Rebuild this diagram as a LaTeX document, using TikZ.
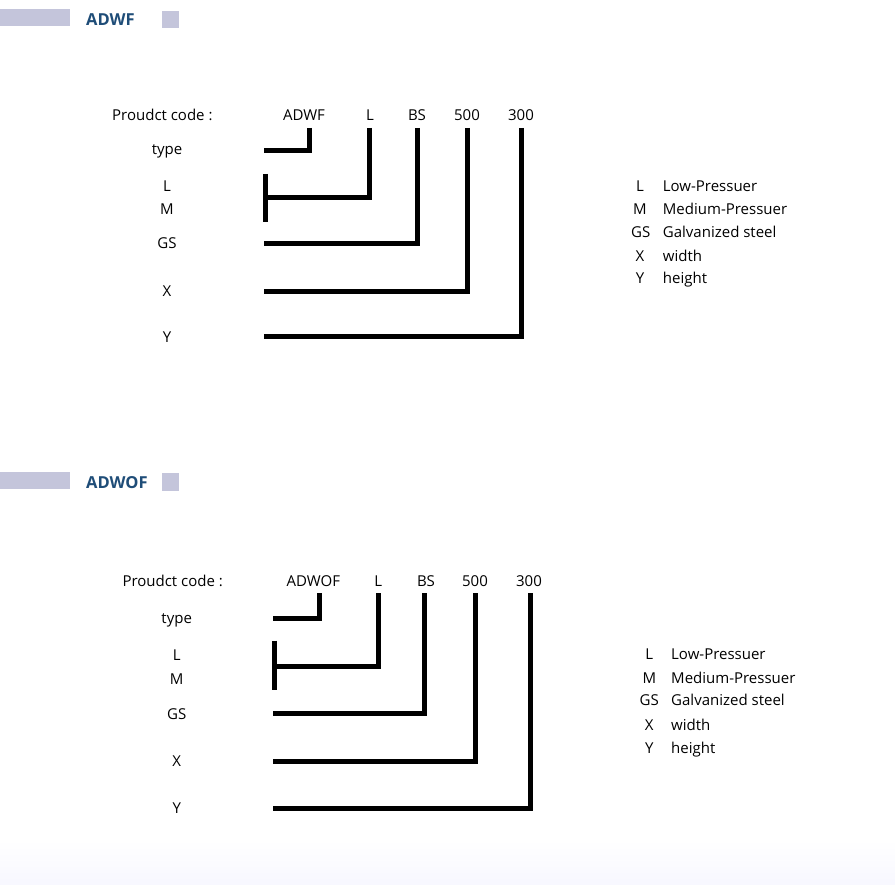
\documentclass[tikz,border=0pt]{standalone}
\usepackage{fontspec}
\setmainfont{Open Sans}
\definecolor{barc}{HTML}{C4C5DB}
\definecolor{headc}{HTML}{1F4D78}
\begin{document}
\begin{tikzpicture}[x=1pt,y=-1pt,
  lbl/.style={font=\fontsize{15}{18}\selectfont, inner sep=0pt, anchor=base},
  lblw/.style={lbl, anchor=base west},
  head/.style={font=\bfseries\fontsize{16.5}{20}\selectfont, text=headc, inner sep=0pt, anchor=base west},
  conn/.style={line width=5pt, line join=miter},
  bar/.style={fill=barc, draw=none}]
\useasboundingbox[fill=white] (0,0) rectangle (895,885);
\shade[bottom color=blue!3!white, top color=white] (0,840) rectangle (895,885);

% ===== Header 1 =====
\fill[bar] (0,9) rectangle (70,25.7);
\fill[bar] (162,11) rectangle (179,27.7);
\node[head] (h1) at (86,25.7) {ADWF};

% ===== Diagram 1 =====
\node[lblw] (pc1) at (112,121) {Proudct code :};
\node[lbl] (c1a) at (304,121) {ADWF};
\node[lbl] (c1b) at (370,121) {L};
\node[lbl] (c1c) at (417,121) {BS};
\node[lbl] (c1d) at (467,121) {500};
\node[lbl] (c1e) at (521,121) {300};

\node[lbl] (l1a) at (167,155) {type};
\node[lbl] (l1b) at (167,192) {L};
\node[lbl] (l1c) at (167,215) {M};
\node[lbl] (l1d) at (167,249) {GS};
\node[lbl] (l1e) at (167,296.7) {X};
\node[lbl] (l1f) at (167,343) {Y};

\coordinate (t1a) at (309,128);  \coordinate (e1a) at (264,151);
\coordinate (t1b) at (369,128);  \coordinate (e1b) at (265,198);
\coordinate (b1top) at (265,174); \coordinate (b1bot) at (265,222);
\coordinate (t1c) at (417,128);  \coordinate (e1c) at (264,244);
\coordinate (t1d) at (467,128);  \coordinate (e1d) at (264,292);
\coordinate (t1e) at (521.5,128);  \coordinate (e1e) at (264,337);

\draw[conn] (t1a) |- (e1a);
\draw[conn] (b1top) -- (b1bot);
\draw[conn] (t1b) |- (e1b);
\draw[conn] (t1c) |- (e1c);
\draw[conn] (t1d) |- (e1d);
\draw[conn] (t1e) |- (e1e);

% Legend 1
\node[lbl] (k1a) at (640,191.7) {L};
\node[lbl] (k1b) at (640,215) {M};
\node[lbl] (k1c) at (640.7,238) {GS};
\node[lbl] (k1d) at (640,261.7) {X};
\node[lbl] (k1e) at (640,284) {Y};
\node[lblw] (d1a) at (662.7,191.7) {Low-Pressuer};
\node[lblw] (d1b) at (662.7,215) {Medium-Pressuer};
\node[lblw] (d1c) at (662.7,238) {Galvanized steel};
\node[lblw] (d1d) at (662.7,261.7) {width};
\node[lblw] (d1e) at (662.7,284) {height};

% ===== Header 2 =====
\fill[bar] (0,472.3) rectangle (70,489);
\fill[bar] (162,473) rectangle (179,490.7);
\node[head] (h2) at (86,488.3) {ADWOF};

% ===== Diagram 2 =====
\node[lblw] (pc2) at (122.3,586.7) {Proudct code :};
\node[lbl] (c2a) at (313.3,586.7) {ADWOF};
\node[lbl] (c2b) at (378.3,586.7) {L};
\node[lbl] (c2c) at (426,586.7) {BS};
\node[lbl] (c2d) at (475,586.7) {500};
\node[lbl] (c2e) at (529,586.7) {300};

\node[lbl] (l2a) at (176.7,623) {type};
\node[lbl] (l2b) at (176.7,660.7) {L};
\node[lbl] (l2c) at (176.7,684) {M};
\node[lbl] (l2d) at (176.7,719.3) {GS};
\node[lbl] (l2e) at (176.7,766.7) {X};
\node[lbl] (l2f) at (176.7,813) {Y};

\coordinate (t2a) at (319,593);  \coordinate (e2a) at (273,618.5);
\coordinate (t2b) at (378,593);  \coordinate (e2b) at (274,666);
\coordinate (b2top) at (274,640.7); \coordinate (b2bot) at (274,690);
\coordinate (t2c) at (424.5,593);  \coordinate (e2c) at (273,713.3);
\coordinate (t2d) at (475,593);  \coordinate (e2d) at (273,761.5);
\coordinate (t2e) at (530,593);  \coordinate (e2e) at (273,808.8);

\draw[conn] (t2a) |- (e2a);
\draw[conn] (b2top) -- (b2bot);
\draw[conn] (t2b) |- (e2b);
\draw[conn] (t2c) |- (e2c);
\draw[conn] (t2d) |- (e2d);
\draw[conn] (t2e) |- (e2e);

% Legend 2
\node[lbl] (k2a) at (649.3,659) {L};
\node[lbl] (k2b) at (649.3,683.3) {M};
\node[lbl] (k2c) at (649.3,705.7) {GS};
\node[lbl] (k2d) at (649.3,730.7) {X};
\node[lbl] (k2e) at (649.3,753.3) {Y};
\node[lblw] (d2a) at (671,659) {Low-Pressuer};
\node[lblw] (d2b) at (671,683.3) {Medium-Pressuer};
\node[lblw] (d2c) at (671,705.7) {Galvanized steel};
\node[lblw] (d2d) at (671,730.7) {width};
\node[lblw] (d2e) at (671,753.3) {height};
\end{tikzpicture}
\end{document}
